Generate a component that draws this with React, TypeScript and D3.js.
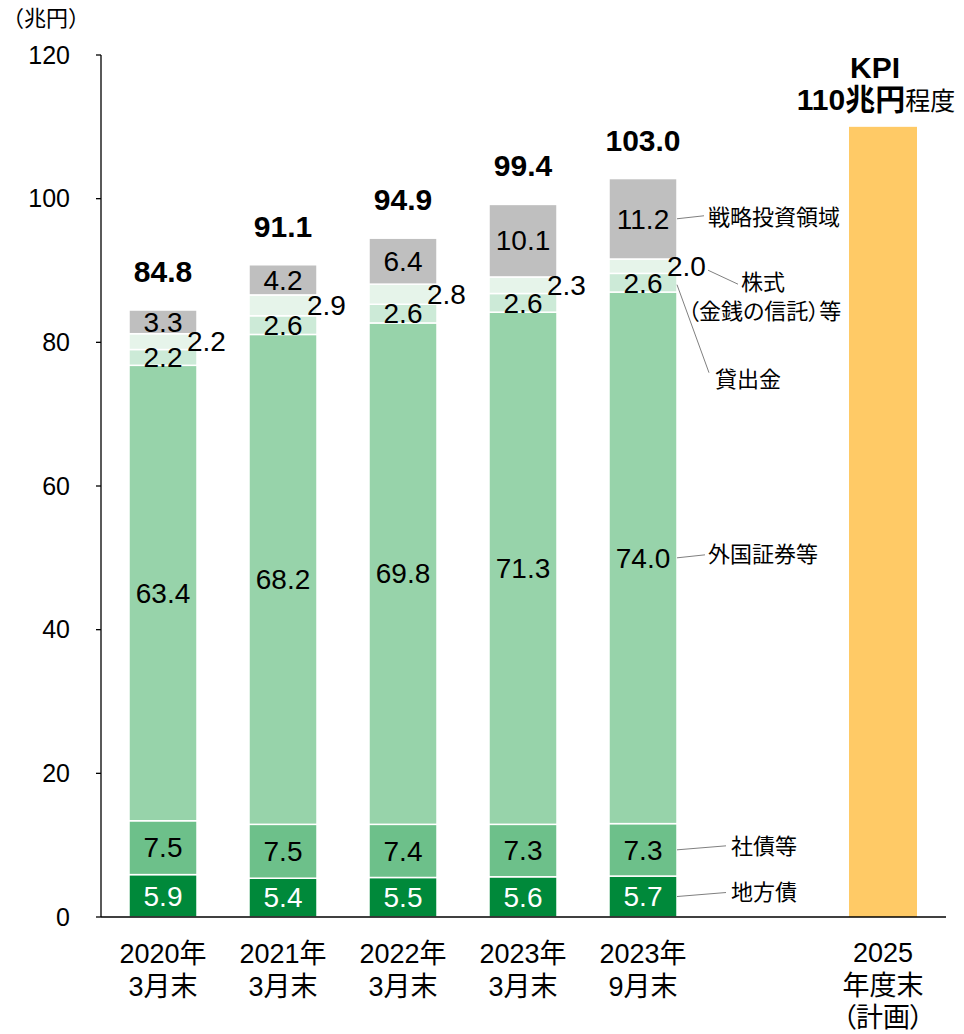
import React from 'react';
import * as d3 from 'd3';

const categories = ['2020年3月末', '2021年3月末', '2022年3月末', '2023年3月末', '2023年9月末'];
const catLine1 = ['2020年', '2021年', '2022年', '2023年', '2023年'];
const catLine2 = ['3月末', '3月末', '3月末', '3月末', '9月末'];
const chihousai = [5.9, 5.4, 5.5, 5.6, 5.7];
const shasai = [7.5, 7.5, 7.4, 7.3, 7.3];
const gaikoku = [63.4, 68.2, 69.8, 71.3, 74.0];
const kashidashi = [2.2, 2.6, 2.6, 2.6, 2.6];
const kabushiki = [2.2, 2.9, 2.8, 2.3, 2.0];
const senryaku = [3.3, 4.2, 6.4, 10.1, 11.2];
const totals = [84.8, 91.1, 94.9, 99.4, 103.0];
const kpiValue = 110;
const kpiLines = ['2025', '年度末', '（計画）'];
const yTicks = [0, 20, 40, 60, 80, 100, 120];
const seriesNames = ['地方債', '社債等', '外国証券等', '貸出金', '株式（金銭の信託）等', '戦略投資領域'];
const seriesColors = ['#00893A', '#6DC08A', '#97D3AA', '#CCEAD7', '#E6F4EA', '#BFBFBF'];
const seriesValues = [chihousai, shasai, gaikoku, kashidashi, kabushiki, senryaku];

const FONT = "'Liberation Sans', Arial, 'Noto Sans CJK JP', sans-serif";
const JFONT = "'Noto Sans CJK JP', 'Liberation Sans', sans-serif";

export default function App() {
  const W = 964, H = 1034;
  const x = d3.scaleBand<string>()
    .domain([...categories, 'gap', 'kpi'])
    .range([103, 943])
    .paddingInner(52 / 120)
    .paddingOuter(26 / 120);
  const y = d3.scaleLinear().domain([0, 120]).range([917, 55]);
  const bw = x.bandwidth();

  const segs = categories.map((c, i) => {
    let cum = 0;
    return seriesValues.map((vals, s) => {
      const y0 = cum;
      cum += vals[i];
      return { s, y0, y1: cum, v: vals[i] };
    });
  });

  const last = categories.length - 1;
  const R = (x(categories[last]) as number) + bw;
  const mid = (s: number) => y((segs[last][s].y0 + segs[last][s].y1) / 2);
  const lineColor = '#808080';
  const annSize = 22;
  const palt = { fontFeatureSettings: '"palt"' } as React.CSSProperties;

  const kx = (x('kpi') as number) + bw / 2;

  return (
    <svg width={W} height={H} style={{ position: 'absolute', left: 0, top: 0, background: '#fff' }} fontFamily={FONT}>
      <text x={2} y={26} fontSize={22} fontFamily={JFONT} fill="#000">（兆円）</text>

      <line x1={101} x2={101} y1={y(120)} y2={y(0)} stroke="#000" strokeWidth={1.3} />
      {yTicks.map(t => (
        <g key={t}>
          <line x1={96} x2={101} y1={y(t)} y2={y(t)} stroke="#000" strokeWidth={1.3} />
          <text x={70} y={y(t)} dy="0.35em" textAnchor="end" fontSize={25} fill="#000">{t}</text>
        </g>
      ))}

      {categories.map((c, i) => (
        <g key={c}>
          {segs[i].map(d => (
            <rect key={d.s} x={x(c)} width={bw} y={y(d.y1)} height={y(d.y0) - y(d.y1)}
              fill={seriesColors[d.s]} stroke="#fff" strokeWidth={1.5} />
          ))}
          {segs[i].map(d => {
            const cx = (x(c) as number) + bw / 2;
            const cy = (y(d.y0) + y(d.y1)) / 2;
            if (d.s === 4) {
              return (
                <text key={'l' + d.s} x={(x(c) as number) + bw - 10} y={cy} dy="0.35em" fontSize={28} fill="#000">
                  {d.v.toFixed(1)}
                </text>
              );
            }
            return (
              <text key={'l' + d.s} x={cx} y={cy} dy="0.35em" textAnchor="middle" fontSize={28}
                fill={d.s === 0 ? '#fff' : '#000'}>
                {d.v.toFixed(1)}
              </text>
            );
          })}
          <text x={(x(c) as number) + bw / 2} y={y(segs[i][5].y1) - 28} textAnchor="middle"
            fontSize={30} fontWeight="bold" fill="#000">{totals[i].toFixed(1)}</text>
          <text x={(x(c) as number) + bw / 2} y={963} textAnchor="middle" fontSize={27} fill="#000">{catLine1[i]}</text>
          <text x={(x(c) as number) + bw / 2} y={996} textAnchor="middle" fontSize={27} fill="#000">{catLine2[i]}</text>
        </g>
      ))}

      <rect x={x('kpi')} width={bw} y={y(kpiValue)} height={y(0) - y(kpiValue)} fill="#FFCA66" />
      <text x={kx - 8} y={78} textAnchor="middle" fontSize={30} fontWeight="bold" fill="#000">KPI</text>
      <text x={kx - 7} y={110} textAnchor="middle" fill="#000">
        <tspan fontSize={30} fontWeight="bold">{kpiValue}兆円</tspan>
        <tspan fontSize={25} fontFamily={JFONT}>程度</tspan>
      </text>
      {kpiLines.map((t, k) => (
        <text key={t} x={kx} y={962 + k * 32.5} textAnchor="middle" fontSize={27} fill="#000" style={palt}>{t}</text>
      ))}

      <line x1={101} x2={946} y1={y(0)} y2={y(0)} stroke="#000" strokeWidth={1.5} />

      <g fontFamily={JFONT} fontSize={annSize} fill="#000" style={palt}>
        <line x1={R} y1={mid(5)} x2={R + 27} y2={mid(5) - 3} stroke={lineColor} strokeWidth={1} />
        <text x={R + 31} y={mid(5) - 1} dy="0.35em">{seriesNames[5]}</text>

        <line x1={R + 31} y1={mid(4) + 4} x2={R + 61} y2={mid(4) + 18} stroke={lineColor} strokeWidth={1} />
        <text x={R + 64} y={mid(4) + 16} dy="0.35em">株式</text>
        <text x={R + 11} y={mid(4) + 45} dy="0.35em">（金銭の信託）等</text>

        <line x1={R} y1={mid(3) + 2} x2={R + 32} y2={mid(3) + 90} stroke={lineColor} strokeWidth={1} />
        <text x={R + 38} y={mid(3) + 97} dy="0.35em">{seriesNames[3]}</text>

        <line x1={R} y1={mid(2)} x2={R + 28} y2={mid(2) - 3} stroke={lineColor} strokeWidth={1} />
        <text x={R + 31} y={mid(2) - 4} dy="0.35em">{seriesNames[2]}</text>

        <line x1={R} y1={mid(1)} x2={R + 49} y2={mid(1) - 4} stroke={lineColor} strokeWidth={1} />
        <text x={R + 54} y={mid(1) - 4} dy="0.35em">{seriesNames[1]}</text>

        <line x1={R} y1={mid(0)} x2={R + 49} y2={mid(0) - 4} stroke={lineColor} strokeWidth={1} />
        <text x={R + 54} y={mid(0) - 4} dy="0.35em">{seriesNames[0]}</text>
      </g>
    </svg>
  );
}
